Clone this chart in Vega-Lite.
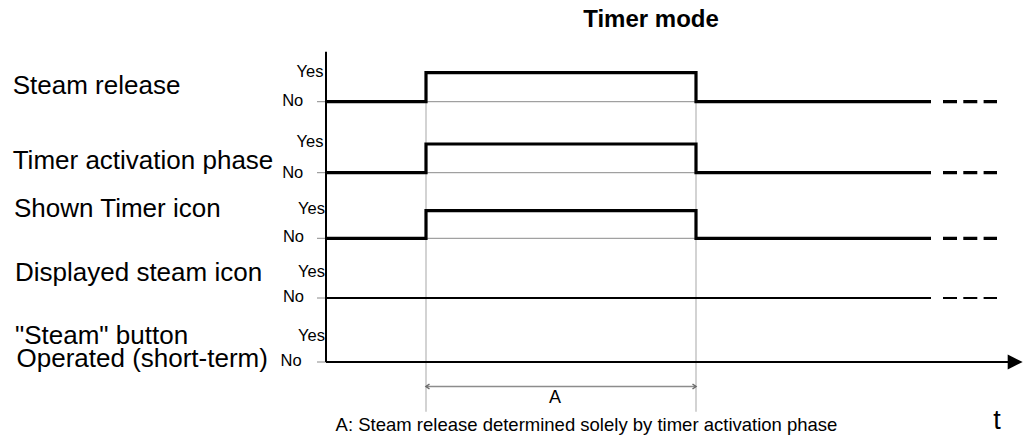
{
  "$schema": "https://vega.github.io/schema/vega-lite/v6.json",
  "width": 1023,
  "height": 439,
  "autosize": {"type": "fit", "contains": "padding"},
  "padding": 0,
  "background": "white",
  "config": {"view": {"stroke": null}, "text": {"font": "Liberation Sans", "color": "black", "baseline": "alphabetic"}},
  "datasets": {
    "steps": [
      {"signal": "Steam release", "seq": 1, "t": 0, "y": 101.7},
      {"signal": "Steam release", "seq": 2, "t": 100, "y": 101.7},
      {"signal": "Steam release", "seq": 3, "t": 100, "y": 72.7},
      {"signal": "Steam release", "seq": 4, "t": 370, "y": 72.7},
      {"signal": "Steam release", "seq": 5, "t": 370, "y": 101.7},
      {"signal": "Steam release", "seq": 6, "t": 605, "y": 101.7},
      {"signal": "Timer activation phase", "seq": 1, "t": 0, "y": 172.7},
      {"signal": "Timer activation phase", "seq": 2, "t": 100, "y": 172.7},
      {"signal": "Timer activation phase", "seq": 3, "t": 100, "y": 144},
      {"signal": "Timer activation phase", "seq": 4, "t": 370, "y": 144},
      {"signal": "Timer activation phase", "seq": 5, "t": 370, "y": 172.7},
      {"signal": "Timer activation phase", "seq": 6, "t": 605, "y": 172.7},
      {"signal": "Shown Timer icon", "seq": 1, "t": 0, "y": 238.3},
      {"signal": "Shown Timer icon", "seq": 2, "t": 100, "y": 238.3},
      {"signal": "Shown Timer icon", "seq": 3, "t": 100, "y": 210.7},
      {"signal": "Shown Timer icon", "seq": 4, "t": 370, "y": 210.7},
      {"signal": "Shown Timer icon", "seq": 5, "t": 370, "y": 238.3},
      {"signal": "Shown Timer icon", "seq": 6, "t": 605, "y": 238.3}
    ],
    "steam_icon": [{"signal": "Displayed steam icon", "t": 0, "t2": 605, "y": 298}],
    "dash_thick": [
      {"signal": "Steam release", "t": 617, "t2": 671, "y": 101.7},
      {"signal": "Timer activation phase", "t": 617, "t2": 671, "y": 172.7},
      {"signal": "Shown Timer icon", "t": 617, "t2": 671, "y": 238.3}
    ],
    "dash_thin": [{"signal": "Displayed steam icon", "t": 617, "t2": 671, "y": 298}],
    "baselines": [
      {"t": -9, "t2": 605, "y": 101.7},
      {"t": -9, "t2": 605, "y": 172.7},
      {"t": -9, "t2": 605, "y": 238.3},
      {"t": -9, "t2": 0, "y": 298},
      {"t": -9, "t2": 0, "y": 362}
    ],
    "markers": [
      {"t": 100, "y": 72.7, "y2": 411.7},
      {"t": 370, "y": 72.7, "y2": 411.7}
    ],
    "yaxis": [{"t": 0, "y": 51.7, "y2": 362}],
    "taxis": [{"t": 0, "t2": 684, "y": 362}],
    "arrowhead": [{"t": 696.7, "y": 362}],
    "span": [{"t": 100, "t2": 370, "y": 386.5}],
    "span_ends": [
      {"t": 100, "y": 386.5, "dir": "start"},
      {"t": 370, "y": 386.5, "dir": "end"}
    ],
    "row_labels": [
      {"label": "Steam release", "t": -313.3, "y": 94},
      {"label": "Timer activation phase", "t": -313.3, "y": 169},
      {"label": "Shown Timer icon", "t": -312, "y": 216.7},
      {"label": "Displayed steam icon", "t": -311, "y": 280.7},
      {"label": "\"Steam\" button", "t": -311, "y": 344},
      {"label": "Operated (short-term)", "t": -309.5, "y": 366.7}
    ],
    "levels": [
      {"label": "Yes", "t": -2.5, "y": 76.7},
      {"label": "No", "t": -22.7, "y": 106},
      {"label": "Yes", "t": -2.5, "y": 146.7},
      {"label": "No", "t": -22.7, "y": 177.5},
      {"label": "Yes", "t": -1, "y": 214},
      {"label": "No", "t": -22, "y": 242.3},
      {"label": "Yes", "t": -1, "y": 277},
      {"label": "No", "t": -22, "y": 302.3},
      {"label": "Yes", "t": -1, "y": 340.5},
      {"label": "No", "t": -24.3, "y": 365.7}
    ],
    "title": [{"label": "Timer mode", "t": 325, "y": 27}],
    "span_label": [{"label": "A", "t": 229, "y": 403}],
    "note": [{"label": "A: Steam release determined solely by timer activation phase", "t": 260.5, "y": 431}],
    "time_label": [{"label": "t", "t": 671, "y": 429}]
  },
  "encoding": {
    "x": {"field": "t", "type": "quantitative", "scale": {"domain": [-326, 697], "nice": false, "zero": false}, "axis": null},
    "y": {"field": "y", "type": "quantitative", "scale": {"domain": [0, 439], "reverse": true, "nice": false, "zero": false}, "axis": null}
  },
  "layer": [
    {"data": {"name": "baselines"}, "mark": {"type": "rule", "color": "#8a8a8a", "strokeWidth": 1}, "encoding": {"x2": {"field": "t2"}}},
    {"data": {"name": "markers"}, "mark": {"type": "rule", "color": "#c4c4c4", "strokeWidth": 1.5}, "encoding": {"y2": {"field": "y2"}}},
    {"data": {"name": "steps"}, "mark": {"type": "line", "color": "black", "strokeWidth": 3.2, "strokeJoin": "miter"}, "encoding": {"detail": {"field": "signal"}, "order": {"field": "seq", "type": "quantitative"}}},
    {"data": {"name": "steam_icon"}, "mark": {"type": "rule", "color": "black", "strokeWidth": 1.8}, "encoding": {"x2": {"field": "t2"}}},
    {"data": {"name": "dash_thick"}, "mark": {"type": "rule", "color": "black", "strokeWidth": 3.2, "strokeDash": [14, 6.3]}, "encoding": {"x2": {"field": "t2"}}},
    {"data": {"name": "dash_thin"}, "mark": {"type": "rule", "color": "black", "strokeWidth": 1.8, "strokeDash": [14, 6.3]}, "encoding": {"x2": {"field": "t2"}}},
    {"data": {"name": "yaxis"}, "mark": {"type": "rule", "color": "black", "strokeWidth": 2}, "encoding": {"y2": {"field": "y2"}}},
    {"data": {"name": "taxis"}, "mark": {"type": "rule", "color": "black", "strokeWidth": 2}, "encoding": {"x2": {"field": "t2"}}},
    {"data": {"name": "arrowhead"}, "mark": {"type": "point", "shape": "M-2,-1L0,0L-2,1Z", "filled": true, "size": 225, "color": "black", "opacity": 1, "strokeWidth": 0}},
    {"data": {"name": "span"}, "mark": {"type": "rule", "color": "#8c8c8c", "strokeWidth": 1.5}, "encoding": {"x2": {"field": "t2"}}},
    {"data": {"name": "span_ends"}, "mark": {"type": "point", "filled": false, "size": 25, "color": "#6a6a6a", "strokeWidth": 1.5, "opacity": 1}, "encoding": {"shape": {"field": "dir", "type": "nominal", "scale": {"domain": ["start", "end"], "range": ["M1.4,-1L0,0L1.4,1", "M-1.4,-1L0,0L-1.4,1"]}, "legend": null}}},
    {"data": {"name": "row_labels"}, "mark": {"type": "text", "fontSize": 26, "align": "left"}, "encoding": {"text": {"field": "label"}}},
    {"data": {"name": "levels"}, "mark": {"type": "text", "fontSize": 16.5, "align": "right"}, "encoding": {"text": {"field": "label"}}},
    {"data": {"name": "title"}, "mark": {"type": "text", "fontSize": 24, "fontWeight": "bold", "align": "center"}, "encoding": {"text": {"field": "label"}}},
    {"data": {"name": "span_label"}, "mark": {"type": "text", "fontSize": 18, "align": "center"}, "encoding": {"text": {"field": "label"}}},
    {"data": {"name": "note"}, "mark": {"type": "text", "fontSize": 18.5, "align": "center"}, "encoding": {"text": {"field": "label"}}},
    {"data": {"name": "time_label"}, "mark": {"type": "text", "fontSize": 27, "align": "center"}, "encoding": {"text": {"field": "label"}}}
  ]
}
